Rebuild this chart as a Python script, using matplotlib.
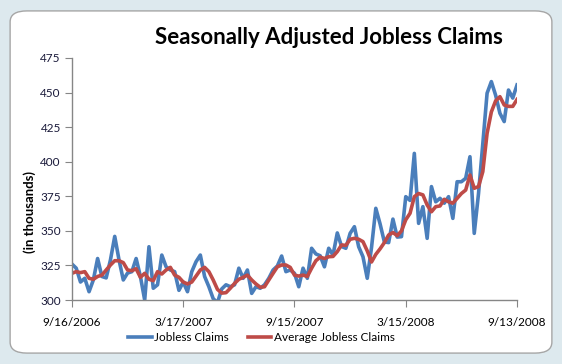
import matplotlib
matplotlib.use("Agg")
import matplotlib.pyplot as plt
from matplotlib.patches import FancyBboxPatch
from matplotlib.lines import Line2D

plt.rcParams['font.family'] = ['Lato', 'DejaVu Sans']

tick_dates = ["9/16/2006", "3/17/2007", "9/15/2007", "3/15/2008", "9/13/2008"]
y_ticks = [300, 325, 350, 375, 400, 425, 450, 475]

jobless = [326, 323, 313, 315.7, 306, 314.5, 330, 317, 316, 329,
           346, 329, 314.5, 319.5, 320.5, 330, 317, 300, 338.5, 308.5,
           311, 332.5, 324, 321.7, 320.5, 307, 313, 306, 320.5, 327.7,
           332.5, 317, 309.6, 301, 298, 308,
           311, 309.6, 311, 323, 315.7, 321.7, 304.8, 309.6, 308.5, 311,
           315.7, 321.7, 324.6, 331.8, 320.5, 321.7, 319.3, 309.6, 323, 315.7,
           337.4, 333.3, 332, 324, 337.4, 332.5, 348.5, 338.7, 337.4, 348.2,
           353, 338.5, 331.3, 315.7, 338, 366.3, 355, 342, 341.5, 358.5, 345.5,
           345.8, 374.7, 372, 406, 355.4, 367.5, 344.6, 382, 371, 373.5,
           370, 374.7, 359, 385.5, 385.5, 388, 403.6,
           348.2, 377, 413, 449.5, 457.9, 448, 435, 429, 451.8, 446, 455.5]

average = [319.3, 320.5, 319.8, 320.5, 315.7, 315, 317, 318, 321.7, 325.3,
           328.4, 328.4, 327, 321.7, 321.2, 322.6, 316.4, 319.3, 315, 314,
           320.5, 318.8, 321.7, 323.6, 318, 316.4, 313, 311.6, 313, 317.3,
           321.7, 323.6, 320.5, 314.5, 307.7, 305,
           305.3, 308.5, 312, 315, 316.4, 318, 314.5, 311.6, 309.2, 309.6,
           314.5, 319.3, 324, 325.3, 325.3, 323.6, 318, 317.3, 318, 317,
           323, 328.4, 331, 330, 331.3, 331.5, 335, 339.8, 339.5, 343.9,
           344.6, 343.9, 342.2, 335.5, 327.5, 333, 337, 341.5, 347, 348.8, 346.5,
           350, 358, 362.7, 374.7, 377, 376, 368.7, 363.8, 367.5, 368,
           372.8, 371, 370, 373.5, 377, 379.5, 390.4,
           380.8, 382, 392.8, 420.5, 436, 444, 447, 441, 440, 440, 445]

weeks = list(range(len(jobless)))
tick_pos = [0, 26, 52, 78, 104]

fig = plt.figure(figsize=(5.62, 3.64), dpi=100)
fig.patch.set_facecolor('#dde9ee')
frame = FancyBboxPatch((0.018, 0.03), 0.964, 0.94,
                       boxstyle="round,pad=0,rounding_size=0.03",
                       transform=fig.transFigure, facecolor='white',
                       edgecolor='#a6a6a6', linewidth=1.0, zorder=-5)
fig.patches.append(frame)

ax = fig.add_axes([0.128, 0.1758, 0.792, 0.665])
ax.set_zorder(2)
ax.set_facecolor('none')
blue = '#4a7ebb'
red = '#be4b48'
ax.plot(weeks, jobless, color=blue, lw=2.6, solid_joinstyle='round', label='Jobless Claims')
ax.plot(weeks, average, color=red, lw=2.6, solid_joinstyle='round', label='Average Jobless Claims')

ax.set_xlim(0, 104)
ax.set_ylim(300, 475)
ax.set_yticks(y_ticks)
ax.set_xticks(tick_pos)
ax.set_xticklabels(tick_dates)
for s in ['top', 'right']:
    ax.spines[s].set_visible(False)
for s in ['left', 'bottom']:
    ax.spines[s].set_color('#868686')
    ax.spines[s].set_linewidth(1.0)
ax.tick_params(axis='y', direction='out', length=5, color='#868686', labelsize=8.5, pad=3, labelcolor='#1a1a3a')
ax.tick_params(axis='x', direction='out', length=5, color='#868686', labelsize=8.5, pad=7, labelcolor='black')

fig.text(0.053, 0.418, '(in thousands)', rotation=90, ha='center', va='center',
         fontsize=9.5, fontweight='bold')

fig.text(0.585, 0.896, 'Seasonally Adjusted Jobless Claims', ha='center', va='center',
         fontsize=16, fontweight='bold')

handles = [Line2D([0], [0], color=blue, lw=2.6), Line2D([0], [0], color=red, lw=2.6)]
fig.legend(handles, ['Jobless Claims', 'Average Jobless Claims'], loc='center',
           bbox_to_anchor=(0.465, 0.073), ncol=2, frameon=False, fontsize=8.5,
           handlelength=2.0, handletextpad=0.2, columnspacing=1.6)

fig.savefig('out.png', dpi=100, facecolor=fig.get_facecolor())
